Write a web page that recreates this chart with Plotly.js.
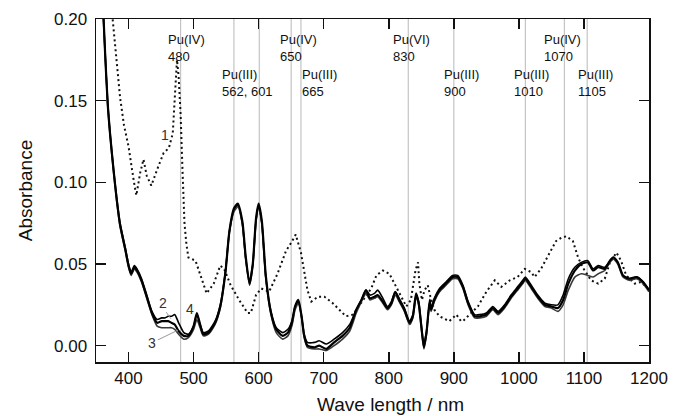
<!DOCTYPE html>
<html>
<head>
<meta charset="utf-8">
<script src="https://cdn.plot.ly/plotly-3.0.1.min.js"></script>
<style>html,body{margin:0;padding:0;background:#fff;}#chart{width:673px;height:416px;}</style>
</head>
<body>
<div id="chart"></div>
<script>
// ---- data ----
const wlDotted = [372, 376, 382, 387, 393, 400, 408, 412, 418, 423, 428, 435, 446, 454, 462, 468, 472, 474.5, 477, 480, 483, 486, 489, 492, 503, 513, 520, 531, 541, 547, 557, 570, 583, 588, 596, 604, 616, 629, 642, 650, 657, 665, 675, 681, 691, 701, 714, 724, 734, 745, 760, 773, 781, 791, 801, 809, 819, 827, 834, 841, 845, 847, 851, 855, 860, 864, 870, 878, 893, 904, 911, 914, 924, 937, 950, 963, 973, 986, 998, 1009, 1019, 1024, 1034, 1045, 1057, 1065, 1073, 1083, 1091, 1098, 1111, 1122, 1132, 1140, 1150, 1157, 1165, 1178, 1188, 1198, 1200];
const absCurve1 = [0.215, 0.198, 0.169, 0.152, 0.135, 0.122, 0.101, 0.092, 0.106, 0.114, 0.104, 0.098, 0.110, 0.118, 0.121, 0.130, 0.158, 0.175, 0.165, 0.142, 0.107, 0.075, 0.062, 0.054, 0.052, 0.040, 0.032, 0.038, 0.049, 0.047, 0.037, 0.028, 0.020, 0.020, 0.031, 0.035, 0.033, 0.044, 0.058, 0.063, 0.068, 0.057, 0.034, 0.027, 0.030, 0.030, 0.026, 0.022, 0.018, 0.019, 0.028, 0.035, 0.043, 0.046, 0.044, 0.038, 0.030, 0.024, 0.028, 0.046, 0.051, 0.038, 0.028, 0.034, 0.037, 0.030, 0.022, 0.018, 0.015, 0.019, 0.015, 0.015, 0.019, 0.024, 0.033, 0.040, 0.036, 0.040, 0.042, 0.047, 0.045, 0.042, 0.047, 0.055, 0.064, 0.066, 0.067, 0.064, 0.054, 0.048, 0.040, 0.038, 0.041, 0.051, 0.057, 0.052, 0.043, 0.038, 0.039, 0.035, 0.034];

const wlSolid = [361, 364, 368, 372, 377, 382, 387, 395, 400, 404, 409, 413, 420, 428, 436, 444, 451, 456, 461, 466, 471, 477, 485, 492, 500, 505, 510, 515, 523, 533, 541, 549, 555, 562, 568, 575, 580, 586, 591, 596, 600, 605, 611, 619, 627, 637, 645, 651, 656, 661, 666, 670, 675, 686, 693, 704, 716, 729, 740, 750, 758, 765, 771, 778, 783, 791, 798, 804, 810, 816, 824, 832, 837, 842, 846, 850, 854, 858, 863, 865, 870, 878, 888, 898, 906, 914, 922, 932, 940, 950, 960, 968, 978, 988, 998, 1006, 1010, 1019, 1029, 1040, 1050, 1060, 1068, 1076, 1086, 1096, 1106, 1114, 1122, 1132, 1140, 1145, 1152, 1160, 1170, 1181, 1191, 1200];
const absCurve2 = [0.205, 0.180, 0.149, 0.129, 0.108, 0.090, 0.075, 0.060, 0.050, 0.045, 0.049, 0.047, 0.041, 0.031, 0.021, 0.016, 0.017, 0.017, 0.018, 0.018, 0.019, 0.014, 0.008, 0.007, 0.012, 0.019, 0.013, 0.008, 0.009, 0.015, 0.025, 0.046, 0.070, 0.083, 0.086, 0.075, 0.054, 0.039, 0.050, 0.077, 0.086, 0.075, 0.042, 0.021, 0.011, 0.008, 0.010, 0.015, 0.024, 0.027, 0.018, 0.007, 0.002, 0.002, 0.003, 0.001, 0.004, 0.008, 0.013, 0.022, 0.028, 0.034, 0.031, 0.032, 0.034, 0.029, 0.024, 0.027, 0.033, 0.029, 0.023, 0.015, 0.019, 0.031, 0.027, 0.013, 0.001, 0.009, 0.027, 0.023, 0.029, 0.035, 0.039, 0.043, 0.043, 0.037, 0.027, 0.019, 0.019, 0.020, 0.024, 0.021, 0.025, 0.031, 0.036, 0.040, 0.042, 0.037, 0.031, 0.026, 0.025, 0.025, 0.031, 0.041, 0.048, 0.051, 0.052, 0.047, 0.049, 0.048, 0.052, 0.054, 0.051, 0.043, 0.041, 0.042, 0.039, 0.034];
const absCurve3 = [0.203, 0.178, 0.147, 0.127, 0.106, 0.088, 0.073, 0.058, 0.048, 0.043, 0.047, 0.045, 0.039, 0.029, 0.019, 0.012, 0.011, 0.011, 0.011, 0.011, 0.010, 0.007, 0.004, 0.005, 0.010, 0.016, 0.011, 0.006, 0.007, 0.013, 0.023, 0.045, 0.069, 0.082, 0.085, 0.074, 0.053, 0.037, 0.049, 0.076, 0.085, 0.074, 0.041, 0.019, 0.008, 0.004, 0.006, 0.012, 0.022, 0.026, 0.017, 0.005, -0.001, -0.002, -0.002, -0.003, 0.000, 0.004, 0.009, 0.020, 0.027, 0.032, 0.028, 0.029, 0.030, 0.026, 0.022, 0.025, 0.031, 0.027, 0.021, 0.013, 0.017, 0.030, 0.025, 0.011, -0.002, 0.007, 0.026, 0.021, 0.027, 0.033, 0.037, 0.041, 0.041, 0.035, 0.025, 0.017, 0.017, 0.018, 0.022, 0.019, 0.023, 0.029, 0.034, 0.038, 0.040, 0.035, 0.029, 0.024, 0.023, 0.021, 0.025, 0.034, 0.042, 0.044, 0.043, 0.042, 0.044, 0.046, 0.051, 0.053, 0.050, 0.042, 0.040, 0.041, 0.038, 0.033];
const absCurve4 = [0.206, 0.179, 0.148, 0.128, 0.1075, 0.089, 0.074, 0.059, 0.049, 0.044, 0.048, 0.046, 0.040, 0.030, 0.020, 0.014, 0.015, 0.015, 0.015, 0.014, 0.013, 0.009, 0.006, 0.006, 0.012, 0.020, 0.013, 0.007, 0.008, 0.014, 0.024, 0.045, 0.070, 0.084, 0.087, 0.076, 0.055, 0.038, 0.050, 0.078, 0.087, 0.076, 0.043, 0.020, 0.010, 0.006, 0.008, 0.014, 0.024, 0.028, 0.018, 0.006, 0.000, -0.001, 0.000, -0.002, 0.002, 0.006, 0.011, 0.022, 0.028, 0.034, 0.029, 0.030, 0.031, 0.027, 0.023, 0.026, 0.033, 0.028, 0.022, 0.014, 0.018, 0.032, 0.026, 0.012, -0.001, 0.008, 0.028, 0.022, 0.028, 0.034, 0.038, 0.042, 0.042, 0.036, 0.026, 0.018, 0.018, 0.019, 0.023, 0.020, 0.024, 0.030, 0.035, 0.039, 0.041, 0.036, 0.030, 0.025, 0.024, 0.023, 0.028, 0.038, 0.046, 0.050, 0.051, 0.046, 0.048, 0.047, 0.052, 0.054, 0.051, 0.043, 0.041, 0.042, 0.039, 0.034];

const bandPositions = [480, 562, 601, 650, 665, 830, 900, 1010, 1070, 1105];
const bandLabels = ['Pu(IV)<br>480', 'Pu(III)<br>562, 601', 'Pu(IV)<br>650', 'Pu(III)<br>665', 'Pu(VI)<br>830', 'Pu(III)<br>900', 'Pu(III)<br>1010', 'Pu(IV)<br>1070', 'Pu(III)<br>1105'];
const curveNames = ['1', '2', '3', '4'];
const xTickVals = [400, 500, 600, 700, 800, 900, 1000, 1100, 1200];
const yTickVals = [0.00, 0.05, 0.10, 0.15, 0.20];

// ---- layout helpers (positions) ----
const labelLeft = [458, 540.5, 630, 663.5, 803.5, 882.5, 990, 1036, 1088];
const labelTop  = [0.193, 0.172, 0.193, 0.172, 0.193, 0.172, 0.172, 0.193, 0.172];

const font = 'Liberation Sans, Arial, sans-serif';

const traces = [
  {x: wlDotted, y: absCurve1, name: curveNames[0], mode: 'lines', line: {color: '#111', width: 2, dash: '2px,3px'}},
  {x: wlSolid, y: absCurve2, name: curveNames[1], mode: 'lines', line: {color: '#000', width: 1.6, shape: 'spline', smoothing: 0.6}},
  {x: wlSolid, y: absCurve3, name: curveNames[2], mode: 'lines', line: {color: '#3a3a3a', width: 1.6, shape: 'spline', smoothing: 0.6}},
  {x: wlSolid, y: absCurve4, name: curveNames[3], mode: 'lines', line: {color: '#000', width: 2.2, shape: 'spline', smoothing: 0.6}}
];

const shapes = bandPositions.map(p => ({
  type: 'line', xref: 'x', yref: 'paper', x0: p, x1: p, y0: 0, y1: 1,
  line: {color: '#c4c4c4', width: 1.2}, layer: 'below'
}));
// leader lines for labels 2 and 3
shapes.push({type: 'line', xref: 'x', yref: 'y', x0: 458, y0: 0.0205, x1: 465, y1: 0.0165, line: {color: '#999', width: 1}});
shapes.push({type: 'line', xref: 'x', yref: 'y', x0: 445, y0: 0.0035, x1: 476, y1: 0.0095, line: {color: '#999', width: 1}});

const annotations = bandLabels.map((t, i) => ({
  text: t, x: labelLeft[i], y: labelTop[i], xref: 'x', yref: 'y',
  xanchor: 'left', yanchor: 'top', align: 'left', showarrow: false,
  font: {family: font, size: 13, color: '#111'}
}));
const numPos = [[456.5, 0.129], [453.5, 0.026], [436, 0.0018], [494.5, 0.0225]];
curveNames.forEach((n, i) => annotations.push({
  text: n, x: numPos[i][0], y: numPos[i][1], xref: 'x', yref: 'y', showarrow: false,
  font: {family: font, size: 14, color: '#333'}
}));
annotations.push({
  text: 'Wave length / nm', xref: 'paper', yref: 'paper', x: 0.5325, y: 0, yshift: -42,
  xanchor: 'center', yanchor: 'middle', showarrow: false,
  font: {family: font, size: 19, color: '#111'}
});

const layout = {
  width: 673, height: 416,
  margin: {l: 96, r: 24, t: 19, b: 54},
  paper_bgcolor: '#fff', plot_bgcolor: '#fff',
  showlegend: false,
  font: {family: font, color: '#111'},
  xaxis: {
    range: [350, 1200], tickvals: xTickVals, ticktext: xTickVals.map(String),
    ticks: 'inside', ticklen: 10, tickwidth: 1.5, tickcolor: '#111',
    showline: true, linecolor: '#111', linewidth: 1.5, mirror: 'ticks',
    showgrid: false, zeroline: false,
    tickfont: {family: font, size: 17, color: '#111'}
  },
  yaxis: {
    range: [-0.01, 0.2], tickvals: yTickVals, ticktext: yTickVals.map(v => v.toFixed(2)),
    ticks: 'inside', ticklen: 10, tickwidth: 1.5, tickcolor: '#111',
    showline: true, linecolor: '#111', linewidth: 1.5, mirror: 'ticks',
    showgrid: false, zeroline: false, ticklabelstandoff: 4,
    tickfont: {family: font, size: 17, color: '#111'},
    title: {text: 'Absorbance', font: {family: font, size: 19, color: '#111'}, standoff: 16}
  },
  shapes: shapes,
  annotations: annotations
};

Plotly.newPlot('chart', traces, layout, {displayModeBar: false, staticPlot: true});
</script>
</body>
</html>
